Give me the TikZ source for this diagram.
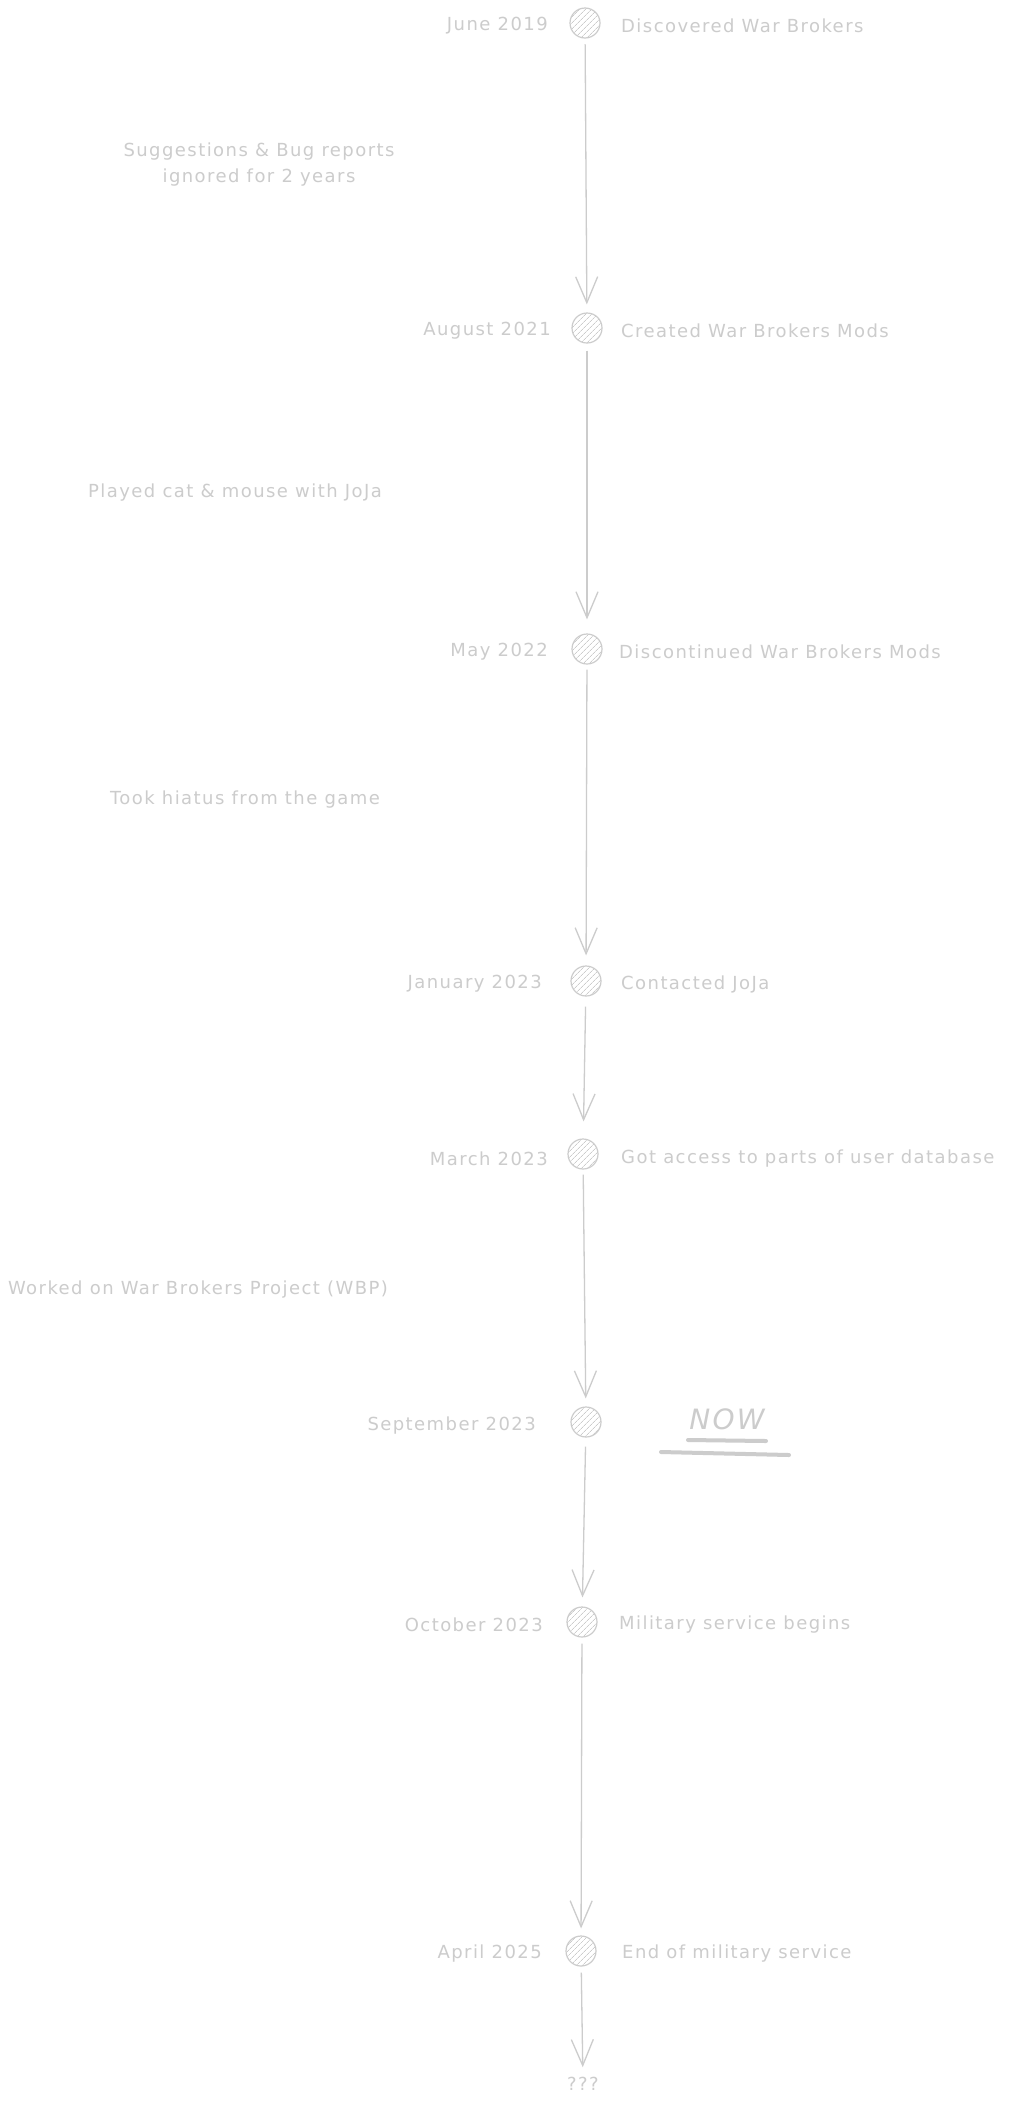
\documentclass[tikz,border=0pt]{standalone}
\usepackage{fontspec}
\setmainfont{DejaVu Sans}[LetterSpace=8]
\usetikzlibrary{arrows.meta,patterns.meta}
\definecolor{ink}{RGB}{204,204,204}
\tikzset{
  evt/.style={circle, minimum size=30pt, inner sep=0, draw=ink, line width=1.2pt,
    pattern={Lines[angle=45,distance=4pt,line width=0.7pt]}, pattern color=ink},
  txt/.style={inner sep=0, text=ink, font=\fontsize{18}{22}\selectfont, yshift=-3pt},
  datel/.style={txt, anchor=east},
  descr/.style={txt, anchor=west},
  notel/.style={txt, align=center},
  conn/.style={draw=ink, line width=1.3pt, -{Straight Barb[length=26pt,width=22pt,line width=1.3pt]}},
  uline/.style={draw=ink, line width=4pt, line cap=round}
}
\begin{document}
\begin{tikzpicture}[x=1pt,y=-1pt]
\useasboundingbox (0,0) rectangle (1028,2107);
\fill[white] (0,0) rectangle (1028,2107);

% events
\node[evt] (e1) at (585,23) {};
\node[evt] (e2) at (587,328) {};
\node[evt] (e3) at (587,649) {};
\node[evt] (e4) at (586,981) {};
\node[evt] (e5) at (583,1154) {};
\node[evt] (e6) at (586,1422) {};
\node[evt] (e7) at (582,1622) {};
\node[evt] (e8) at (581,1951) {};
\node[txt, yshift=3pt] (q) at (583,2084) {???};

% dates
\node[datel] (d1) at (548,23) {June 2019};
\node[datel] (d2) at (551,328) {August 2021};
\node[datel] (d3) at (548,649) {May 2022};
\node[datel] (d4) at (542,981) {January 2023};
\node[datel] (d5) at (548,1156) {March 2023};
\node[datel] (d6) at (536,1423) {September 2023};
\node[datel] (d7) at (543,1622) {October 2023};
\node[datel] (d8) at (542,1951) {April 2025};

% descriptions
\node[descr] (t1) at (621,23) {Discovered War Brokers};
\node[descr] (t2) at (621,328) {Created War Brokers Mods};
\node[descr] (t3) at (619,649) {Discontinued War Brokers Mods};
\node[descr] (t4) at (621,981) {Contacted JoJa};
\node[descr] (t5) at (621,1156) {Got access to parts of user database};
\node[descr] (t7) at (619,1622) {Military service begins};
\node[descr] (t8) at (622,1951) {End of military service};

% period notes
\node[notel] (n1) at (259,162) {Suggestions \& Bug reports\\[4pt]ignored for 2 years};
\node[notel] (n2) at (235,490) {Played cat \& mouse with JoJa};
\node[notel] (n3) at (245,797) {Took hiatus from the game};
\node[notel] (n4) at (198,1287) {Worked on War Brokers Project (WBP)};

% NOW
\node[inner sep=0, text=ink, font=\fontsize{28}{32}\selectfont\itshape] (now) at (727,1419) {NOW};
\coordinate (u1a) at (688,1440);
\coordinate (u1b) at (766,1441);
\coordinate (u2a) at (661,1452);
\coordinate (u2b) at (789,1455);
\draw[uline] (u1a) -- (u1b);
\draw[uline] (u2a) -- (u2b);

% connectors
\draw[conn, shorten <=6pt, shorten >=8pt] (e1) -- (e2);
\draw[conn, shorten <=7pt, shorten >=14pt] (e2) -- (e3);
\draw[conn, shorten <=5pt, shorten >=10pt] (e3) -- (e4);
\draw[conn, shorten <=10pt, shorten >=17pt] (e4) -- (e5);
\draw[conn, shorten <=5pt, shorten >=8pt] (e5) -- (e6);
\draw[conn, shorten <=9pt, shorten >=9pt] (e6) -- (e7);
\draw[conn, shorten <=6pt, shorten >=7pt] (e7) -- (e8);
\draw[conn, shorten <=6pt, shorten >=10pt] (e8) -- (q);
\end{tikzpicture}
\end{document}
